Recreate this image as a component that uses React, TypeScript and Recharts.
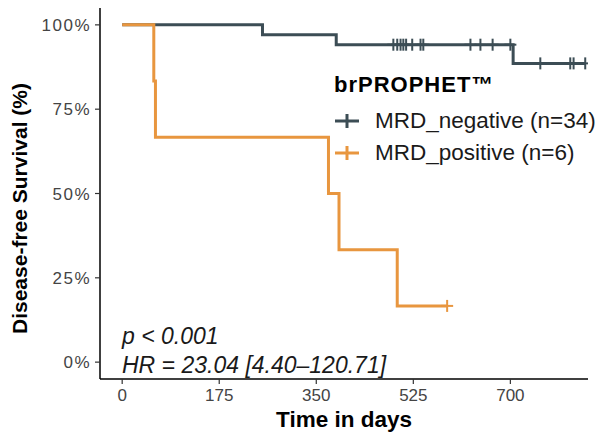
import React from 'react';
import { ComposedChart, Line, Scatter, XAxis, YAxis, Legend } from 'recharts';

const negativeSteps = [
  { x: 0, y: 100 },
  { x: 253, y: 97.06 },
  { x: 386, y: 94.12 },
  { x: 705, y: 88.58 },
  { x: 835, y: 88.58 },
];
const positiveSteps = [
  { x: 0, y: 100 },
  { x: 57, y: 83.33 },
  { x: 60, y: 66.67 },
  { x: 372, y: 50 },
  { x: 391, y: 33.33 },
  { x: 496, y: 16.67 },
  { x: 586, y: 16.67 },
];
const negativeCensorDays = [489, 496, 502, 507, 512, 523, 538, 543, 628, 646, 668, 700];
const negativeCensorLate = [754, 808, 814, 835];
const positiveCensor = [{ x: 586, y: 16.67 }];
const negativeCensor = [
  ...negativeCensorDays.map((x) => ({ x, y: 94.12 })),
  ...negativeCensorLate.map((x) => ({ x, y: 88.58 })),
];

const xTicks = [0, 175, 350, 525, 700];
const yTicks = [0, 25, 50, 75, 100];
const seriesNames = ['MRD_negative (n=34)', 'MRD_positive (n=6)'];
const legendTitle = 'brPROPHET\u2122';
const pText = 'p < 0.001';
const hrText = 'HR = 23.04 [4.40\u2013120.71]';

const DARK = '#3C4D55';
const ORANGE = '#E8963F';
const FONT = '"Liberation Sans", Arial, Helvetica, sans-serif';

const plusShape = (color: string) => (props: any) => {
  const { cx, cy } = props;
  if (cx == null || cy == null) return <g />;
  return (
    <g>
      <line x1={cx} x2={cx} y1={cy - 6} y2={cy + 6} stroke={color} strokeWidth={2} />
      <line x1={cx - 6} x2={cx + 6} y1={cy} y2={cy} stroke={color} strokeWidth={2} />
    </g>
  );
};

const LegendContent = (props: any) => {
  const items = (props.payload || []).filter((p: any) => p.type !== 'none');
  return (
    <div style={{ fontFamily: FONT, color: '#000', textAlign: 'left' }}>
      <div
        style={{
          fontWeight: 'bold',
          fontSize: 22,
          letterSpacing: 1,
          lineHeight: '24px',
          marginBottom: 8,
          marginTop: 3,
          marginLeft: 1,
        }}
      >
        {legendTitle}
      </div>
      {items.map((it: any) => (
        <div key={it.value} style={{ display: 'flex', alignItems: 'center', height: 32 }}>
          <svg width={40} height={20} style={{ marginRight: 2 }}>
            <line x1={2} x2={26} y1={10} y2={10} stroke={it.color} strokeWidth={3} />
            <line x1={14} x2={14} y1={3} y2={17} stroke={it.color} strokeWidth={3} />
          </svg>
          <span style={{ fontSize: 22.5, color: '#1a1a1a' }}>{it.value}</span>
        </div>
      ))}
    </div>
  );
};

export default function App() {
  return (
    <div style={{ position: 'absolute', left: 0, top: 0, width: 602, height: 434, background: '#fff' }}>
      <ComposedChart
        width={602}
        height={434}
        margin={{ top: 8, right: 14, bottom: 25, left: 0 }}
        style={{ fontFamily: FONT }}
      >
        <XAxis
          type="number"
          dataKey="x"
          domain={[-40, 840]}
          ticks={xTicks}
          allowDataOverflow
          height={30}
          tickSize={5}
          tickMargin={5}
          stroke="#000"
          axisLine={{ stroke: '#000', strokeWidth: 1.5 }}
          tickLine={{ stroke: '#333', strokeWidth: 1.2 }}
          tick={{ fill: '#444', fontSize: 17, fontFamily: FONT }}
          label={(p: any) => {
            const vb = p.viewBox || { x: 100, width: 488, y: 379 };
            return (
              <text
                x={vb.x + vb.width / 2}
                y={427}
                textAnchor="middle"
                fontFamily={FONT}
                fontSize={22.5}
                fontWeight="bold"
                fill="#000"
              >
                Time in days
              </text>
            );
          }}
        />
        <YAxis
          type="number"
          dataKey="y"
          domain={[-5, 105]}
          ticks={yTicks}
          allowDataOverflow
          width={100}
          tickSize={5}
          tickMargin={4}
          tickFormatter={(v: number) => `${v}%`}
          axisLine={{ stroke: '#000', strokeWidth: 1.5 }}
          tickLine={{ stroke: '#333', strokeWidth: 1.2 }}
          tick={{ fill: '#444', fontSize: 17, fontFamily: FONT, letterSpacing: 1.5 }}
          label={{
            value: 'Disease-free Survival (%)',
            angle: -90,
            position: 'center',
            dx: -30,
            dy: 15,
            style: { fontFamily: FONT, fontSize: 21, fontWeight: 'bold', fill: '#000' },
          }}
        />
        <Legend
          content={<LegendContent />}
          layout="vertical"
          verticalAlign="middle"
          align="center"
          wrapperStyle={{ position: 'absolute', left: 333, top: 70, width: 270 }}
        />
        <Line
          data={negativeSteps}
          dataKey="y"
          name={seriesNames[0]}
          type="stepAfter"
          stroke={DARK}
          strokeWidth={3}
          dot={false}
          activeDot={false}
          isAnimationActive={false}
        />
        <Line
          data={positiveSteps}
          dataKey="y"
          name={seriesNames[1]}
          type="stepAfter"
          stroke={ORANGE}
          strokeWidth={3}
          dot={false}
          activeDot={false}
          isAnimationActive={false}
        />
        <Scatter
          data={negativeCensor}
          dataKey="y"
          legendType="none"
          shape={plusShape(DARK)}
          isAnimationActive={false}
        />
        <Scatter
          data={positiveCensor}
          dataKey="y"
          legendType="none"
          shape={plusShape(ORANGE)}
          isAnimationActive={false}
        />
      </ComposedChart>
      <div
        style={{
          position: 'absolute',
          left: 122,
          top: 322,
          fontFamily: FONT,
          fontStyle: 'italic',
          fontSize: 23,
          lineHeight: '29px',
          color: '#1a1a1a',
          whiteSpace: 'nowrap',
        }}
      >
        <div>{pText}</div>
        <div>{hrText}</div>
      </div>
    </div>
  );
}
